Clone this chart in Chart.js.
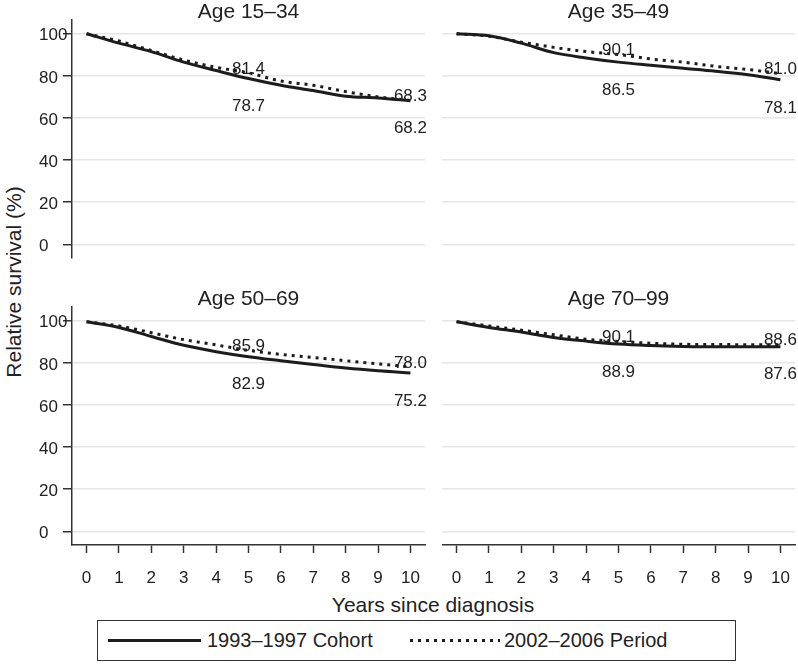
<!DOCTYPE html>
<html>
<head>
<meta charset="utf-8">
<script src="https://cdn.jsdelivr.net/npm/chart.js@4.4.0/dist/chart.umd.min.js"></script>
<style>
  body { margin: 0; background: #fff; font-family: "Liberation Sans", Arial, sans-serif; color: #222; }
  #wrap { position: relative; width: 798px; height: 669px; overflow: hidden; }
  canvas { position: absolute; }
  .ytitle { position: absolute; left: 14px; top: 282px; transform: translate(-50%, -50%) rotate(-90deg); font-size: 21px; white-space: nowrap; }
  .xtitle { position: absolute; left: 433px; top: 605px; transform: translate(-50%, -50%); font-size: 21px; white-space: nowrap; }
  .legend { position: absolute; left: 97px; top: 620px; width: 637px; height: 39px; border: 1.5px solid #333; }
  .legend .solid { position: absolute; left: 10px; top: 18px; width: 93px; height: 3px; background: #1c1c1c; }
  .legend .dots { position: absolute; left: 312px; top: 18px; width: 90px; height: 3px;
    background: repeating-linear-gradient(to right, #1c1c1c 0 3px, transparent 3px 8px); }
  .legend span { position: absolute; top: 8px; font-size: 20px; white-space: nowrap; }
</style>
</head>
<body>
<div id="wrap">
  <canvas id="c1" width="391" height="262" style="left:39px;top:0px"></canvas>
  <canvas id="c2" width="356" height="262" style="left:442px;top:0px"></canvas>
  <canvas id="c3" width="391" height="305" style="left:39px;top:280px"></canvas>
  <canvas id="c4" width="356" height="305" style="left:442px;top:280px"></canvas>
  <div class="ytitle">Relative survival (%)</div>
  <div class="xtitle">Years since diagnosis</div>
  <div class="legend">
    <div class="solid"></div><span style="left:109px">1993–1997 Cohort</span>
    <div class="dots"></div><span style="left:406px">2002–2006 Period</span>
  </div>
</div>
<script>
const years = [0, 1, 2, 3, 4, 5, 6, 7, 8, 9, 10];
const yTicks = [0, 20, 40, 60, 80, 100];
const labelYears = [5, 10];

const titles = ["Age 15–34", "Age 35–49", "Age 50–69", "Age 70–99"];
const seriesNames = ["1993–1997 Cohort", "2002–2006 Period"];

const cohort1534 = [100, 95.5, 91.5, 86.5, 82.5, 78.7, 75.5, 73, 70.3, 69.5, 68.2];
const period1534 = [100, 96.5, 92, 87.5, 84, 81.4, 77.5, 75.5, 72.5, 70, 68.3];
const cohort3549 = [100, 99, 95.5, 91, 88.5, 86.5, 85, 83.6, 82.2, 80.5, 78.1];
const period3549 = [100, 98.8, 96, 93.5, 91.5, 90.1, 88, 86.5, 84.5, 83, 81.0];
const cohort5069 = [99.5, 96.8, 92.5, 88.3, 85.3, 82.9, 81, 79.2, 77.5, 76.2, 75.2];
const period5069 = [99.5, 97.5, 94.3, 91, 88.5, 85.9, 84, 82.5, 81, 79.5, 78.0];
const cohort7099 = [99.5, 96.8, 94.6, 92, 90.3, 88.9, 88.2, 87.8, 87.6, 87.6, 87.6];
const period7099 = [99.5, 97.5, 95.5, 93.3, 91.2, 90.1, 89.3, 88.8, 88.7, 88.6, 88.6];

const FONT = "'Liberation Sans', Arial, sans-serif";
Chart.defaults.font.family = FONT;
Chart.defaults.color = "#222";

// panel title + value labels at 5 and 10 years
const panelDecor = {
  id: "panelDecor",
  afterDatasetsDraw(chart, args, opts) {
    const { ctx, chartArea, scales } = chart;
    const x = scales.x, y = scales.y;
    ctx.save();
    ctx.fillStyle = "#222";
    ctx.textAlign = "center";
    ctx.textBaseline = "middle";
    ctx.font = "21px " + FONT;
    ctx.fillText(opts.title, (chartArea.left + chartArea.right) / 2, chartArea.top - 8);
    ctx.font = "17px " + FONT;
    labelYears.forEach((yr) => {
      const i = years.indexOf(yr);
      const px = x.getPixelForValue(yr);
      ctx.fillText(opts.period[i].toFixed(1), px, y.getPixelForValue(opts.period[i]) - 4);
      ctx.fillText(opts.cohort[i].toFixed(1), px, y.getPixelForValue(opts.cohort[i]) + 28);
    });
    ctx.restore();
  },
};

function makePanel(id, title, cohort, period, leftCol, bottomRow) {
  let config = {
    type: "line",
    data: {
      labels: years,
      datasets: [
        {
          label: seriesNames[0],
          data: years.map((yr, i) => ({ x: yr, y: cohort[i] })),
          borderColor: "#1c1c1c",
          borderWidth: 3,
          pointRadius: 0,
          cubicInterpolationMode: "monotone",
        },
        {
          label: seriesNames[1],
          data: years.map((yr, i) => ({ x: yr, y: period[i] })),
          borderColor: "#1c1c1c",
          borderWidth: 3,
          borderDash: [3, 5],
          pointRadius: 0,
          cubicInterpolationMode: "monotone",
        },
      ],
    },
    options: {
      responsive: false,
      animation: false,
      layout: {
        padding: { top: bottomRow ? 27 : 20, bottom: bottomRow ? 0 : 4, left: 0, right: leftCol ? 5 : 3 },
      },
      plugins: {
        legend: { display: false },
        tooltip: { enabled: false },
        panelDecor: { title: title, cohort: cohort, period: period },
      },
      scales: {
        x: {
          type: "linear",
          display: bottomRow,
          min: -0.45,
          max: 10.45,
          afterBuildTicks: (s) => { s.ticks = years.map((v) => ({ value: v })); },
          afterFit: (s) => {
            if (bottomRow) s.height = 40;
            s.paddingLeft = 0;
            s.paddingRight = 0;
          },
          grid: { drawOnChartArea: false, tickLength: 8, tickColor: "#333", tickWidth: 1.5 },
          border: { color: "#333", width: 1.5 },
          ticks: { font: { size: 17 }, padding: 15, maxRotation: 0, autoSkip: false },
        },
        y: {
          min: -6.5,
          max: 106.5,
          afterBuildTicks: (s) => { s.ticks = yTicks.map((v) => ({ value: v })); },
          afterFit: (s) => {
            s.width = leftCol ? 33 : 0;
            s.paddingTop = 0;
            s.paddingBottom = 0;
          },
          grid: {
            color: "#e6e6e6",
            lineWidth: 1.5,
            drawTicks: leftCol,
            tickLength: 9,
            tickColor: "#333",
            tickWidth: 1.5,
          },
          border: { display: leftCol, color: "#333", width: 1.5 },
          ticks: {
            display: leftCol,
            font: { size: 17 },
            crossAlign: "far",
            padding: 0,
            labelOffset: 2,
          },
        },
      },
    },
    plugins: [panelDecor],
  };
  return new Chart(document.getElementById(id).getContext("2d"), config);
}

makePanel("c1", titles[0], cohort1534, period1534, true, false);
makePanel("c2", titles[1], cohort3549, period3549, false, false);
makePanel("c3", titles[2], cohort5069, period5069, true, true);
makePanel("c4", titles[3], cohort7099, period7099, false, true);
</script>
</body>
</html>
